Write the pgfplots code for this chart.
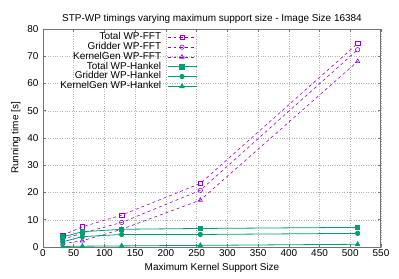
\documentclass[border=0pt]{standalone}
\usepackage{fontspec}
\setmainfont{Liberation Sans}
\usepackage{pgfplots}
\pgfplotsset{compat=1.18}
\definecolor{fftc}{HTML}{9400D3}
\definecolor{hkc}{HTML}{009E73}
\begin{document}
\fontsize{10}{11}\selectfont
\begin{tikzpicture}
\useasboundingbox (-43bp,-32bp) rectangle (356bp,247bp);
\begin{axis}[
  scale only axis,
  width=338bp, height=218bp,
  xmin=0, xmax=550, ymin=0, ymax=80,
  xtick={0,50,...,550}, ytick={0,10,...,80},
  /pgf/number format/assume math mode=true,
  tick label style={font=\fontsize{10}{11}\selectfont},
  label style={font=\fontsize{10}{11}\selectfont},
  title style={font=\fontsize{10}{11}\selectfont, yshift=-4bp},
  title={STP-WP timings varying maximum support size - Image Size 16384},
  xlabel={Maximum Kernel Support Size},
  ylabel={Running time [s]},
  xlabel style={yshift=1bp},
  ylabel style={yshift=0bp},
  xticklabel style={yshift=0.5bp},
  yticklabel style={xshift=-1bp},
  axis line style={draw=black!55, line width=1pt},
  tick style={draw=black!55, line width=0.6pt},
  tick align=inside,
  major tick length=3bp,
  grid=major,
  grid style={dotted, draw=black!30, line width=0.5pt},
  legend style={draw=none, fill=none, at={(rel axis cs:0.456,0.985)}, anchor=north east,
    font=\fontsize{10}{10}\selectfont, row sep=0pt, column sep=6bp, inner sep=0pt,
    nodes={inner sep=0pt, text height=7.3bp, text depth=2.5bp}},
  legend cell align=right,
  legend plot pos=right,
  legend image code/.code={\draw[mark repeat=2,mark phase=2,#1] plot coordinates {(0bp,0bp)(14.5bp,0bp)(29bp,0bp)};},
]
\addplot[fftc, dash pattern=on 3pt off 3pt, line width=0.6pt, mark=square, mark size=2.2pt, mark options={solid}]
  coordinates {(32,4.3)(64,7.4)(128,11.7)(256,23.3)(512,74.7)};
\addlegendentry{Total WP-FFT}
\addplot[fftc, dash pattern=on 3pt off 3pt, line width=0.6pt, mark=o, mark size=2.2pt, mark options={solid}]
  coordinates {(32,2.8)(64,5.1)(128,9.0)(256,20.8)(512,72.4)};
\addlegendentry{Gridder WP-FFT}
\addplot[fftc, dash pattern=on 3pt off 3pt, line width=0.6pt, mark=triangle, mark size=2.5pt, mark options={solid}]
  coordinates {(32,1.2)(64,2.3)(128,6.5)(256,17.2)(512,68.1)};
\addlegendentry{KernelGen WP-FFT}
\addplot[hkc, solid, line width=0.8pt, mark=square*, mark size=2.2pt]
  coordinates {(32,3.7)(64,5.6)(128,6.5)(256,6.8)(512,7.2)};
\addlegendentry{Total WP-Hankel}
\addplot[hkc, solid, line width=0.8pt, mark=*, mark size=2.2pt]
  coordinates {(32,1.9)(64,3.8)(128,4.6)(256,4.6)(512,5.0)};
\addlegendentry{Gridder WP-Hankel}
\addplot[hkc, solid, line width=0.8pt, mark=triangle*, mark size=2.5pt]
  coordinates {(32,0.2)(64,0.3)(128,0.4)(256,0.6)(512,1.0)};
\addlegendentry{KernelGen WP-Hankel}
\end{axis}
\end{tikzpicture}
\end{document}
